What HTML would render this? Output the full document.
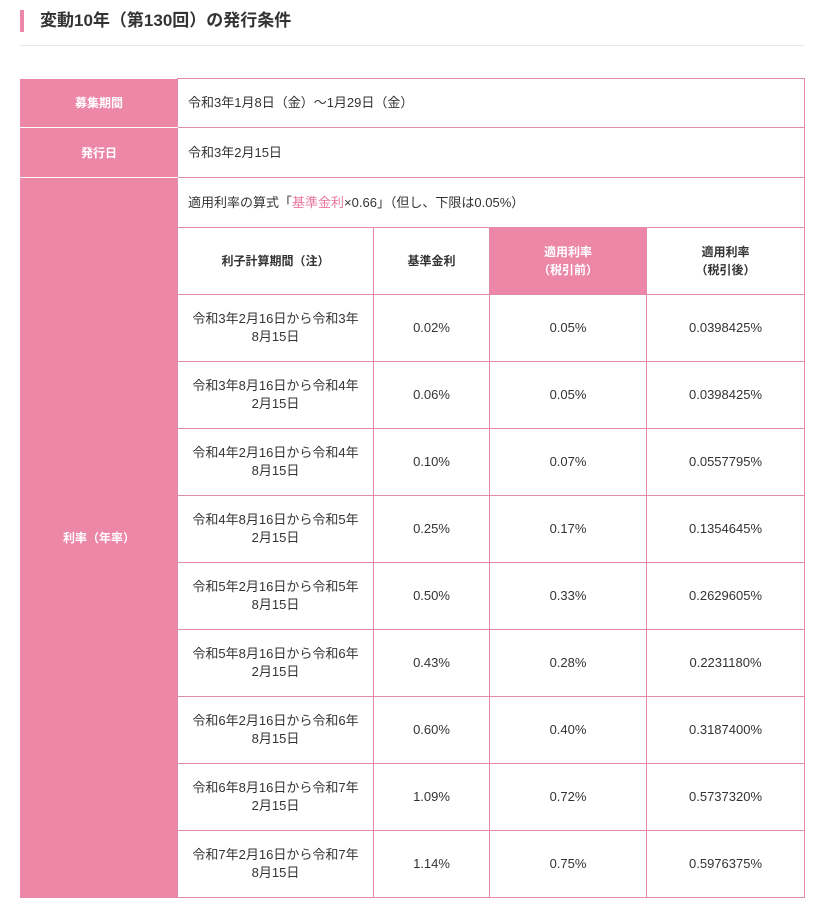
<!DOCTYPE html>
<html><head><meta charset="utf-8"><style>
body{margin:0;background:#fff;width:838px;height:900px;overflow:hidden;font-family:"Liberation Sans","Noto Sans CJK JP",sans-serif;color:#333;}
.bar{position:absolute;left:20px;top:10px;width:4px;height:22px;background:#ec87a7;}
h1{position:absolute;left:40px;top:9px;margin:0;font-size:17px;font-weight:bold;color:#333;line-height:24px;}
.hr{position:absolute;left:20px;top:45px;width:784px;height:1px;background:#e8e8e8;}
table{position:absolute;left:20px;top:78px;border-collapse:collapse;table-layout:fixed;width:785px;font-size:13px;}
td{border:1px solid #e38aaa;text-align:center;padding:0 6px;line-height:18px;}
td.h{background:#ec87a7;color:#fff;font-weight:bold;font-size:12px;border-color:#fff #e38aaa #fff #ec87a7;}
td.l{text-align:left;padding-left:10px;}
td.th{font-weight:bold;font-size:12px;}
td.pk{background:#ec87a7;color:#fff;font-weight:bold;font-size:12px;}
.k{color:#e8789c;}
tr.d td{height:66px;}
</style></head><body>
<div class="bar"></div><h1>変動10年（第130回）の発行条件</h1><div class="hr"></div>
<table>
<colgroup><col style="width:157px"><col style="width:196px"><col style="width:116px"><col style="width:157px"><col style="width:158px"></colgroup>
<tr style="height:49px"><td class="h">募集期間</td><td class="l" colspan="4">令和3年1月8日（金）～1月29日（金）</td></tr>
<tr style="height:50px"><td class="h">発行日</td><td class="l" colspan="4">令和3年2月15日</td></tr>
<tr style="height:50px"><td class="h" rowspan="11" style="border-bottom-color:#ec87a7">利率（年率）</td><td class="l" colspan="4">適用利率の算式「<span class="k">基準金利</span>×0.66」（但し、下限は0.05%）</td></tr>
<tr style="height:67px"><td class="th">利子計算期間（注）</td><td class="th">基準金利</td><td class="pk">適用利率<br>（税引前）</td><td class="th">適用利率<br>（税引後）</td></tr>
<tr class="d"><td>令和3年2月16日から令和3年<br>8月15日</td><td>0.02%</td><td>0.05%</td><td>0.0398425%</td></tr>
<tr class="d"><td>令和3年8月16日から令和4年<br>2月15日</td><td>0.06%</td><td>0.05%</td><td>0.0398425%</td></tr>
<tr class="d"><td>令和4年2月16日から令和4年<br>8月15日</td><td>0.10%</td><td>0.07%</td><td>0.0557795%</td></tr>
<tr class="d"><td>令和4年8月16日から令和5年<br>2月15日</td><td>0.25%</td><td>0.17%</td><td>0.1354645%</td></tr>
<tr class="d"><td>令和5年2月16日から令和5年<br>8月15日</td><td>0.50%</td><td>0.33%</td><td>0.2629605%</td></tr>
<tr class="d"><td>令和5年8月16日から令和6年<br>2月15日</td><td>0.43%</td><td>0.28%</td><td>0.2231180%</td></tr>
<tr class="d"><td>令和6年2月16日から令和6年<br>8月15日</td><td>0.60%</td><td>0.40%</td><td>0.3187400%</td></tr>
<tr class="d"><td>令和6年8月16日から令和7年<br>2月15日</td><td>1.09%</td><td>0.72%</td><td>0.5737320%</td></tr>
<tr class="d"><td>令和7年2月16日から令和7年<br>8月15日</td><td>1.14%</td><td>0.75%</td><td>0.5976375%</td></tr>
</table>
</body></html>
